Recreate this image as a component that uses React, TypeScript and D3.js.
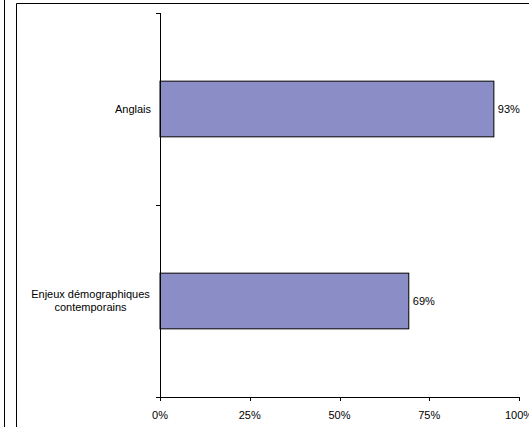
import React from "react";
import * as d3 from "d3";

const categories: string[][] = [["Anglais"], ["Enjeux démographiques", "contemporains"]];
const values: number[] = [93, 69.3];
const valueLabels: string[] = ["93%", "69%"];
const xTicks: number[] = [0, 25, 50, 75, 100];

const W = 529;
const H = 427;
const plot = { left: 160, right: 519, top: 13, bottom: 397 };
const FONT = "'Liberation Sans', Arial, sans-serif";

export default function App() {
  const x = d3.scaleLinear().domain([0, 100]).range([plot.left, plot.right]);
  const y = d3
    .scaleBand<number>()
    .domain(values.map((_, i) => i))
    .range([plot.top, plot.bottom]);
  const bw = y.bandwidth();
  const barH = bw * 0.29;
  const boundaries = [plot.top, ...values.map((_, i) => (y(i) as number) + bw)];

  return (
    <svg
      width={W}
      height={H}
      style={{ position: "absolute", left: 0, top: 0, background: "#fff", display: "block" }}
      fontFamily={FONT}
    >
      <rect x={0} y={0} width={W} height={H} fill="#fff" />
      <line x1={4.5} x2={4.5} y1={0} y2={H} stroke="#000" strokeWidth={1} />
      <line x1={16.5} x2={16.5} y1={3.5} y2={H} stroke="#000" strokeWidth={1} />
      <line x1={16.5} x2={W} y1={3.5} y2={3.5} stroke="#000" strokeWidth={1} />

      {values.map((v, i) => {
        const cy = (y(i) as number) + bw / 2;
        return (
          <g key={i}>
            <rect
              x={x(0)}
              y={cy - barH / 2}
              width={x(v) - x(0)}
              height={barH}
              fill="#8b8ec6"
              stroke="#000"
              strokeWidth={1}
            />
            <text x={x(v) + 4} y={cy} dy="0.35em" fontSize={11} fill="#000">
              {valueLabels[i]}
            </text>
            {categories[i].length === 1 ? (
              <text x={151} y={cy} dy="0.35em" fontSize={11} textAnchor="end" fill="#000">
                {categories[i][0]}
              </text>
            ) : (
              categories[i].map((line, j) => (
                <text
                  key={j}
                  x={90.5}
                  y={cy + (j - (categories[i].length - 1) / 2) * 13}
                  dy="0.35em"
                  fontSize={11}
                  textAnchor="middle"
                  fill="#000"
                >
                  {line}
                </text>
              ))
            )}
          </g>
        );
      })}

      {/* y axis */}
      <line x1={plot.left + 0.5} x2={plot.left + 0.5} y1={plot.top} y2={plot.bottom} stroke="#000" />
      {boundaries.map((b, i) => (
        <line key={i} x1={plot.left - 4} x2={plot.left + 0.5} y1={Math.round(b) + 0.5} y2={Math.round(b) + 0.5} stroke="#000" />
      ))}

      {/* x axis */}
      <line x1={plot.left} x2={plot.right + 0.5} y1={plot.bottom + 0.5} y2={plot.bottom + 0.5} stroke="#000" />
      {xTicks.map((t) => (
        <g key={t}>
          <line x1={Math.round(x(t)) + 0.5} x2={Math.round(x(t)) + 0.5} y1={plot.bottom} y2={plot.bottom + 4} stroke="#000" />
          <text x={x(t)} y={415} dy="0.35em" fontSize={11} textAnchor="middle" fill="#000">
            {t}%
          </text>
        </g>
      ))}
    </svg>
  );
}
